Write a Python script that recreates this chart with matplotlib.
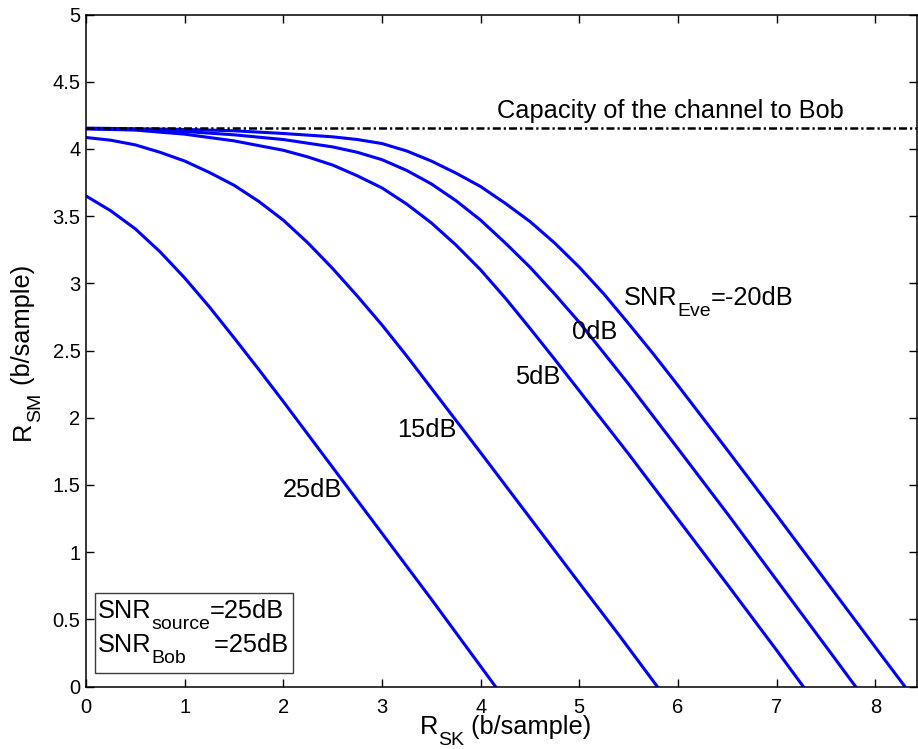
import numpy as np
import matplotlib
matplotlib.use("Agg")
import matplotlib.pyplot as plt
from matplotlib.patches import Rectangle
from matplotlib.ticker import FuncFormatter

plt.rcParams['font.family'] = ['Liberation Sans', 'DejaVu Sans']

# capacity of the channel to Bob (b/sample)
capacity_bob = 4.155

# R_SK vs R_SM for each SNR_Eve
x_m20 = [0, 1.0, 1.5, 2.0, 2.5, 2.75, 3.0, 3.25, 3.5, 3.75, 4.0, 4.25, 4.5, 4.75,
         5.0, 5.25, 5.5, 5.75, 6.0, 6.5, 7.0, 7.5, 8.0, 8.30]
y_m20 = [4.155, 4.145, 4.135, 4.115, 4.09, 4.07, 4.04, 3.985, 3.91, 3.82, 3.72, 3.595,
         3.46, 3.30, 3.12, 2.92, 2.70, 2.475, 2.24, 1.76, 1.275, 0.784, 0.293, 0]

x_0 = [0, 0.5, 1.0, 1.5, 2.0, 2.5, 2.75, 3.0, 3.25, 3.5, 3.75, 4.0, 4.25, 4.5, 4.75,
       5.0, 5.5, 6.0, 6.5, 7.0, 7.5, 7.80]
y_0 = [4.15, 4.145, 4.13, 4.105, 4.07, 4.015, 3.975, 3.92, 3.84, 3.74, 3.615, 3.47, 3.30,
       3.12, 2.92, 2.71, 2.25, 1.77, 1.287, 0.792, 0.298, 0]

x_5 = [0, 0.5, 1.0, 1.5, 2.0, 2.25, 2.5, 2.75, 3.0, 3.25, 3.5, 3.75, 4.0, 4.25, 4.5,
       4.75, 5.0, 5.5, 6.0, 6.5, 7.0, 7.27]
y_5 = [4.15, 4.14, 4.11, 4.06, 3.99, 3.94, 3.88, 3.80, 3.71, 3.59, 3.45, 3.285, 3.10,
       2.89, 2.665, 2.435, 2.20, 1.73, 1.245, 0.76, 0.27, 0]

x_15 = [0, 0.25, 0.5, 0.75, 1.0, 1.25, 1.5, 1.75, 2.0, 2.25, 2.5, 2.75, 3.0, 3.25,
        3.5, 4.0, 4.5, 5.0, 5.4, 5.79]
y_15 = [4.085, 4.065, 4.03, 3.975, 3.91, 3.825, 3.73, 3.61, 3.47, 3.30, 3.11, 2.905,
        2.69, 2.46, 2.22, 1.74, 1.255, 0.77, 0.385, 0]

x_25 = [0, 0.25, 0.5, 0.75, 1.0, 1.25, 1.5, 1.75, 2.0, 2.25, 2.5, 2.75, 3.0, 3.5, 4.15]
y_25 = [3.65, 3.54, 3.405, 3.235, 3.04, 2.825, 2.595, 2.36, 2.12, 1.875, 1.63, 1.385,
        1.14, 0.65, 0]

curves = [(x_m20, y_m20), (x_0, y_0), (x_5, y_5), (x_15, y_15), (x_25, y_25)]

fs = 18.3        # annotation / label size
sub_fs = 14      # subscript size
drop = 7         # subscript drop, points


def sub_text(ax, x, y, base, sub, rest, coords='data', vertical=False):
    """MATLAB-like text with a subscript: base_{sub}rest"""
    if not vertical:
        t1 = ax.annotate(base, xy=(x, y), xycoords=coords, fontsize=fs,
                         va='baseline', annotation_clip=False)
        t2 = ax.annotate(sub, xy=(1, 0), xycoords=t1, xytext=(0, -drop),
                         textcoords='offset points', fontsize=sub_fs,
                         va='bottom', annotation_clip=False)
        t3 = ax.annotate(rest, xy=(1, 0), xycoords=(t2, t1), fontsize=fs,
                         va='bottom', annotation_clip=False)
    else:
        t1 = ax.annotate(base, xy=(x, y), xycoords=coords, fontsize=fs,
                         rotation=90, ha='center', va='bottom', annotation_clip=False)
        t2 = ax.annotate(sub, xy=(1, 1), xycoords=t1, xytext=(drop, 0),
                         textcoords='offset points', fontsize=sub_fs, rotation=90,
                         ha='right', va='bottom', annotation_clip=False)
        t3 = ax.annotate(rest, xy=(1, 1), xycoords=(t1, t2), fontsize=fs,
                         rotation=90, ha='right', va='bottom', annotation_clip=False)
    return t1, t2, t3


fig = plt.figure(figsize=(9.18, 7.49), dpi=100)
ax = fig.add_axes([0.0937, 0.0834, 0.9049, 0.8972])

for xs, ys in curves:
    ax.plot(xs, ys, color=(0, 0, 1), linewidth=2.2)

ax.axhline(capacity_bob, color='black', linewidth=1.8,
           linestyle=(0, (3.2, 1.2, 0.9, 1.2)))

ax.text(4.165, 4.228, 'Capacity of the channel to Bob', fontsize=fs, va='baseline')
sub_text(ax, 5.45, 2.84, 'SNR', 'Eve', '=-20dB')
ax.text(4.93, 2.583, '0dB', fontsize=fs, va='baseline')
ax.text(4.347, 2.251, '5dB', fontsize=fs, va='baseline')
ax.text(3.158, 1.859, '15dB', fontsize=fs, va='baseline')
ax.text(1.993, 1.412, '25dB', fontsize=fs, va='baseline')

# box with the fixed SNRs
ax.add_patch(Rectangle((0.091, 0.103), 2.006, 0.595, fill=False,
                       edgecolor='#3c3c3c', linewidth=1.0, zorder=5))
sub_text(ax, 0.115, 0.51, 'SNR', 'source', '=25dB')
sub_text(ax, 0.115, 0.257, 'SNR', 'Bob', '    =25dB')

ax.set_xlim(0, 8.42)
ax.set_ylim(0, 5)
ax.set_xticks(np.arange(0, 9))
ax.set_yticks(np.arange(0, 5.01, 0.5))
ax.yaxis.set_major_formatter(FuncFormatter(lambda v, p: f'{v:g}'))
ax.tick_params(direction='in', length=6, width=1, labelsize=14.5,
               top=True, right=True)
ax.tick_params(axis='x', pad=8)
ax.tick_params(axis='y', pad=4)
for s in ax.spines.values():
    s.set_linewidth(1.1)

# axis labels
sub_text(ax, 0.402, -0.071, 'R', 'SK', ' (b/sample)', coords='axes fraction')
sub_text(ax, -0.0764, 0.367, 'R', 'SM', ' (b/sample)', coords='axes fraction',
         vertical=True)

fig.savefig('out.png', dpi=100)
